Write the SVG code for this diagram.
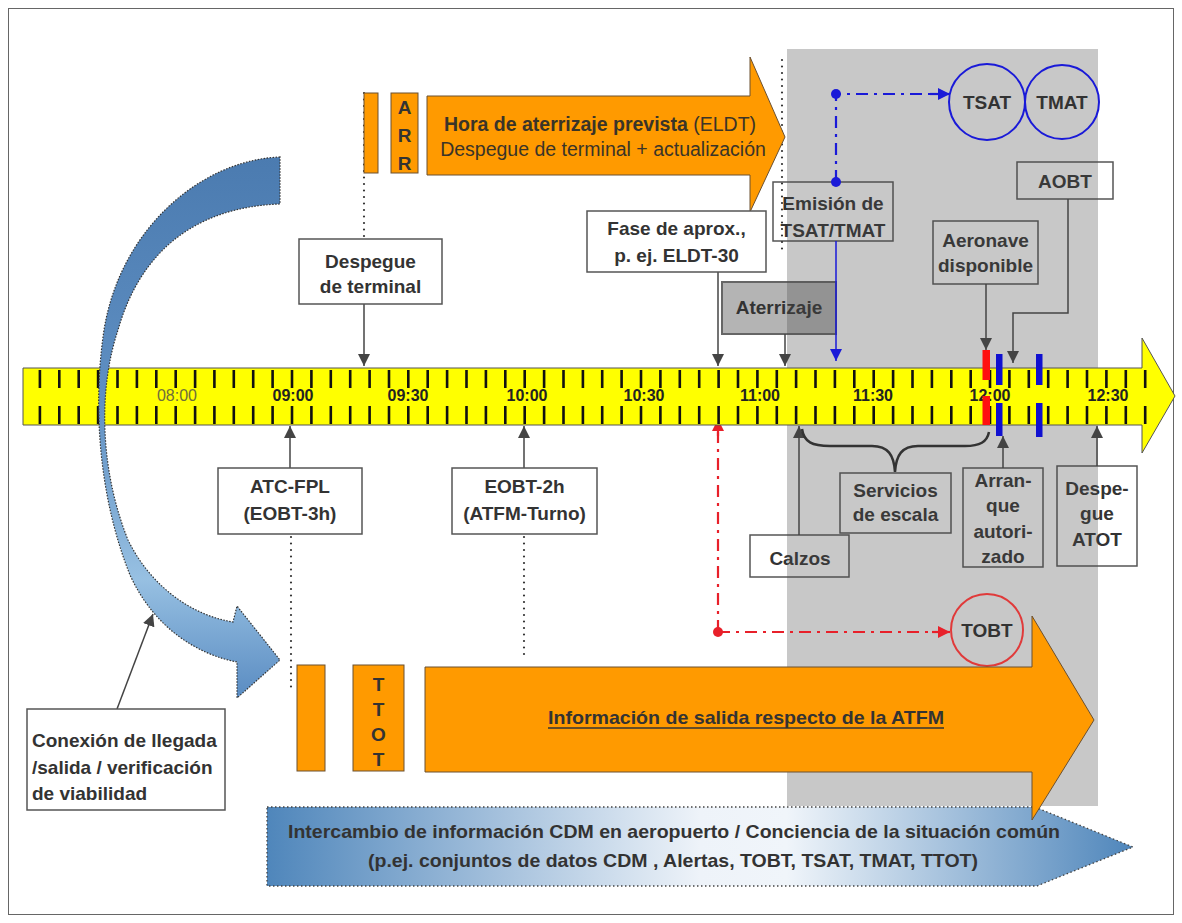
<svg xmlns="http://www.w3.org/2000/svg" width="1182" height="923" viewBox="0 0 1182 923">
<defs>
<style>
.box{fill:#fff;stroke:#555;stroke-width:1.5}
.lbl{font-family:"Liberation Sans",Arial,sans-serif;font-weight:bold;font-size:19px;fill:#333;text-anchor:middle}
.conn{stroke:#444;stroke-width:1.5;fill:none}
.dots{stroke:#333;stroke-width:2.2;stroke-linecap:round;stroke-dasharray:0 6.5;fill:none}
.tick{stroke:#111;stroke-width:2.6;fill:none}
.tl{font-family:"Liberation Sans",Arial,sans-serif;font-weight:bold;font-size:16px;fill:#222;text-anchor:middle}
.orange{fill:#FF9A00;stroke:#6b5030;stroke-width:1}
.bdash{stroke:#1a1ad8;stroke-width:2.2;fill:none;stroke-dasharray:12 6 3 6}
.rdash{stroke:#e8202a;stroke-width:2.2;fill:none;stroke-dasharray:12 6 3 6}
</style>
<marker id="ah" viewBox="0 0 10 10" refX="10" refY="5" markerWidth="12" markerHeight="12" orient="auto" markerUnits="userSpaceOnUse"><path d="M0,0 L10,5 L0,10 z" fill="#444"/></marker>
<marker id="ahb" viewBox="0 0 10 10" refX="10" refY="5" markerWidth="12" markerHeight="12" orient="auto" markerUnits="userSpaceOnUse"><path d="M0,0 L10,5 L0,10 z" fill="#1a1ad8"/></marker>
<marker id="ahr" viewBox="0 0 10 10" refX="10" refY="5" markerWidth="12" markerHeight="12" orient="auto" markerUnits="userSpaceOnUse"><path d="M0,0 L10,5 L0,10 z" fill="#e8202a"/></marker>
<linearGradient id="curveG" x1="0" y1="0" x2="0" y2="1">
<stop offset="0" stop-color="#4b7bb0"/><stop offset="0.45" stop-color="#5f8fc2"/><stop offset="0.78" stop-color="#97c0e2"/><stop offset="1" stop-color="#5a8cc2"/>
</linearGradient>
<linearGradient id="bandG" x1="0" y1="0" x2="1" y2="0">
<stop offset="0" stop-color="#4f86bb"/><stop offset="0.5" stop-color="#eef3f9"/><stop offset="0.6" stop-color="#f0f5fa"/><stop offset="1" stop-color="#4f86bb"/>
</linearGradient>
</defs>
<rect x="0" y="0" width="1182" height="923" fill="#fff"/>
<rect x="8.5" y="8.5" width="1165" height="906" fill="none" stroke="#666" stroke-width="1"/>

<!-- boxes under the gray panel -->
<g id="emision"><rect class="box" x="773" y="182" width="120" height="59"/><text class="lbl" x="833" y="210">Emisión de</text><text class="lbl" x="833" y="237">TSAT/TMAT</text></g>
<g id="aterrizaje"><rect x="722" y="282" width="114" height="52" fill="#b4b4b4" stroke="#666" stroke-width="2"/><text class="lbl" x="779" y="314">Aterrizaje</text></g>
<g id="aeronave"><rect class="box" x="933" y="221" width="105" height="63"/><text class="lbl" x="985.5" y="247">Aeronave</text><text class="lbl" x="985.5" y="272">disponible</text></g>
<g id="aobt"><rect class="box" x="1017" y="162" width="96" height="37"/><text class="lbl" x="1065" y="188">AOBT</text></g>
<g id="servicios"><rect class="box" x="840" y="473" width="111" height="60"/><text class="lbl" x="895.5" y="497">Servicios</text><text class="lbl" x="895.5" y="521">de escala</text></g>
<g id="calzos"><rect class="box" x="750" y="535" width="99" height="42"/><text class="lbl" x="800" y="565">Calzos</text></g>
<g id="arranque"><rect class="box" x="963" y="468" width="80" height="99"/><text class="lbl" x="1003" y="487">Arran-</text><text class="lbl" x="1003" y="512">que</text><text class="lbl" x="1003" y="538">autori-</text><text class="lbl" x="1003" y="563">zado</text></g>
<g id="despegue-atot"><rect class="box" x="1057" y="466" width="80" height="100"/><text class="lbl" x="1097" y="495">Despe-</text><text class="lbl" x="1097" y="520">gue</text><text class="lbl" x="1097" y="546">ATOT</text></g>

<!-- gray panel -->
<rect id="panel" x="787" y="49" width="311" height="757" fill="#484848" opacity="0.3"/>

<!-- connectors -->
<g id="connectors">
<path class="dots" d="M364,93 V238"/>
<path class="dots" d="M782,60 V253"/>
<path class="dots" d="M291,537 V690"/>
<path class="dots" d="M524,537 V657"/>
<path class="conn" d="M364,304 V366" marker-end="url(#ah)"/>
<path class="conn" d="M718,272 V366" marker-end="url(#ah)"/>
<path class="conn" d="M785,334 V366" marker-end="url(#ah)"/>
<path class="conn" d="M986,284 V350" marker-end="url(#ah)"/>
<path class="conn" d="M1068,199 V313 H1013 V363" marker-end="url(#ah)"/>
<path d="M836,241 V361" stroke="#1a1ad8" stroke-width="1.5" fill="none" marker-end="url(#ahb)"/>
<path class="conn" d="M290,468 V426" marker-end="url(#ah)"/>
<path class="conn" d="M524,468 V426" marker-end="url(#ah)"/>
<path class="conn" d="M799,535 V426" marker-end="url(#ah)"/>
<path class="conn" d="M1003,468 V436" marker-end="url(#ah)"/>
<path class="conn" d="M1097,466 V426" marker-end="url(#ah)"/>
<path class="conn" d="M117,709 L153,614" marker-end="url(#ah)"/>
<path d="M802,429 C804,442 812,446 830,446 L872,446 C888,446 894,455 895,472 C896,455 902,446 918,446 L965,446 C980,446 987,442 989,432" stroke="#333" stroke-width="2.5" fill="none"/>
<path class="bdash" d="M836,182 V94 H938"/>
<path d="M930,94 H950" stroke="#1a1ad8" stroke-width="2.2" marker-end="url(#ahb)"/>
<circle cx="836" cy="94" r="5" fill="#1a1ad8"/>
<circle cx="836" cy="182" r="5" fill="#1a1ad8"/>
<path class="rdash" d="M718,632 V432"/>
<path d="M718,436 V419" stroke="#e8202a" stroke-width="2.2" marker-end="url(#ahr)"/>
<path class="rdash" d="M718,632 H938"/>
<path d="M932,632 H950" stroke="#e8202a" stroke-width="2.2" marker-end="url(#ahr)"/>
<circle cx="718" cy="632" r="5" fill="#e8202a"/>
</g>

<!-- timeline -->
<g id="timeline">
<path d="M23,368 H1142 V338 L1175,396 L1142,453 V425 H23 Z" fill="#FFFF00" stroke="#555" stroke-width="1"/>
<path class="tick" d="M39.9 370v18M59.3 370v18M78.7 370v18M98.1 370v18M117.5 370v18M136.9 370v18M156.3 370v18M175.7 370v18M195.1 370v18M214.4 370v18M233.8 370v18M253.2 370v18M272.6 370v18M292 370v18M311.4 370v18M330.8 370v18M350.2 370v18M369.6 370v18M389 370v18M408.3 370v18M427.7 370v18M447.1 370v18M466.5 370v18M485.9 370v18M505.3 370v18M524.7 370v18M544.1 370v18M563.5 370v18M582.9 370v18M602.2 370v18M621.6 370v18M641 370v18M660.4 370v18M679.8 370v18M699.2 370v18M718.6 370v18M738 370v18M757.4 370v18M776.8 370v18M796.1 370v18M815.5 370v18M834.9 370v18M854.3 370v18M873.7 370v18M893.1 370v18M912.5 370v18M931.9 370v18M951.3 370v18M970.7 370v18M990 370v18M1009.4 370v18M1028.8 370v18M1048.2 370v18M1067.6 370v18M1087 370v18M1106.4 370v18M1125.8 370v18M1145.2 370v18"/>
<path class="tick" d="M39.9 406v18M59.3 406v18M78.7 406v18M98.1 406v18M117.5 406v18M136.9 406v18M156.3 406v18M175.7 406v18M195.1 406v18M214.4 406v18M233.8 406v18M253.2 406v18M272.6 406v18M292 406v18M311.4 406v18M330.8 406v18M350.2 406v18M369.6 406v18M389 406v18M408.3 406v18M427.7 406v18M447.1 406v18M466.5 406v18M485.9 406v18M505.3 406v18M524.7 406v18M544.1 406v18M563.5 406v18M582.9 406v18M602.2 406v18M621.6 406v18M641 406v18M660.4 406v18M679.8 406v18M699.2 406v18M718.6 406v18M738 406v18M757.4 406v18M776.8 406v18M796.1 406v18M815.5 406v18M834.9 406v18M854.3 406v18M873.7 406v18M893.1 406v18M912.5 406v18M931.9 406v18M951.3 406v18M970.7 406v18M990 406v18M1009.4 406v18M1028.8 406v18M1048.2 406v18M1067.6 406v18M1087 406v18M1106.4 406v18M1125.8 406v18M1145.2 406v18"/>
<text x="177" y="401" font-family="Liberation Sans,Arial,sans-serif" font-size="16" fill="#6e6e3c" text-anchor="middle">08:00</text>
<text class="tl" x="293" y="401">09:00</text>
<text class="tl" x="408" y="401">09:30</text>
<text class="tl" x="527" y="401">10:00</text>
<text class="tl" x="644" y="401">10:30</text>
<text class="tl" x="760" y="401">11:00</text>
<text class="tl" x="873" y="401">11:30</text>
<text class="tl" x="990" y="401">12:00</text>
<text class="tl" x="1108" y="401">12:30</text>
<rect x="982.5" y="350" width="7.5" height="30" fill="#ff1010"/>
<rect x="982.5" y="396" width="7.5" height="29" fill="#ff1010"/>
<rect x="996" y="354" width="6.5" height="31" fill="#1010d0"/>
<rect x="996" y="403" width="6.5" height="33" fill="#1010d0"/>
<rect x="1036" y="354" width="6.5" height="31" fill="#1010d0"/>
<rect x="1036" y="403" width="6.5" height="34" fill="#1010d0"/>
</g>

<!-- circles -->
<g id="tsat"><circle cx="987" cy="102" r="38" fill="none" stroke="#1a1ad8" stroke-width="2"/><text class="lbl" x="987" y="109">TSAT</text></g>
<g id="tmat"><circle cx="1062" cy="102" r="37" fill="none" stroke="#1a1ad8" stroke-width="2"/><text class="lbl" x="1062" y="109">TMAT</text></g>
<g id="tobt"><circle cx="987" cy="630" r="36" fill="none" stroke="#e03a3a" stroke-width="2"/><text class="lbl" x="987" y="637">TOBT</text></g>

<!-- top arrival arrow -->
<g id="arr-bar"><rect class="orange" x="364" y="93" width="14" height="80"/></g>
<g id="arr"><rect class="orange" x="391" y="93" width="27" height="80"/>
<text class="lbl" x="404.5" y="114" font-size="20">A</text><text class="lbl" x="404.5" y="142" font-size="20">R</text><text class="lbl" x="404.5" y="170" font-size="20">R</text></g>
<g id="eldt"><path class="orange" d="M427,96 H750 V57 L785,137 L750,212 V175 H427 Z"/>
<text x="600" y="131" font-family="Liberation Sans,Arial,sans-serif" font-size="19.5" fill="#3a3428" text-anchor="middle"><tspan font-weight="bold">Hora de aterrizaje prevista</tspan> (ELDT)</text>
<text x="603" y="156" font-family="Liberation Sans,Arial,sans-serif" font-size="19.5" fill="#3a3428" text-anchor="middle">Despegue de terminal + actualización</text></g>

<!-- bottom CDM band -->
<g id="cdm"><path d="M267,807 H1035 L1133,847 L1037,886 H267 Z" fill="url(#bandG)" stroke="#444" stroke-width="1.3" stroke-dasharray="1.5 2.5"/>
<text class="lbl" x="674" y="838" font-size="20" textLength="772" lengthAdjust="spacingAndGlyphs">Intercambio de información CDM en aeropuerto / Conciencia de la situación común</text>
<text class="lbl" x="673" y="867" font-size="20" textLength="610" lengthAdjust="spacingAndGlyphs">(p.ej. conjuntos de datos CDM , Alertas, TOBT, TSAT, TMAT, TTOT)</text></g>

<!-- bottom departure arrow -->
<g id="dep-bar"><rect class="orange" x="297" y="665" width="28" height="106"/></g>
<g id="ttot"><rect class="orange" x="353" y="665" width="51" height="106"/>
<text class="lbl" x="378.5" y="691" font-size="23">T</text><text class="lbl" x="378.5" y="716" font-size="23">T</text><text class="lbl" x="378.5" y="741" font-size="23">O</text><text class="lbl" x="378.5" y="766" font-size="23">T</text></g>
<g id="atfm"><path class="orange" d="M425,667 H1032 V616 L1094,720 L1032,820 V772 H425 Z"/>
<text class="lbl" x="746" y="724" font-size="20" textLength="396" lengthAdjust="spacingAndGlyphs">Información de salida respecto de la ATFM</text>
<line x1="548" y1="728" x2="944" y2="728" stroke="#333" stroke-width="1.5"/></g>

<!-- curved arrow -->
<g id="curved-arrow"><path d="M280,157 C200,160 120,230 104,330 C92,410 100,500 130,575 C155,630 200,655 237,662 L237,698 L280,660 L237,606 L233,622 C190,615 150,585 128,540 C100,470 98,390 118,330 C140,252 195,207 280,204 Z" fill="url(#curveG)" stroke="#333" stroke-width="1.2" stroke-dasharray="1.5 1.5"/></g>

<!-- other boxes -->
<g id="despegue-terminal"><rect class="box" x="299" y="239" width="143" height="65"/><text class="lbl" x="370.5" y="268">Despegue</text><text class="lbl" x="370.5" y="293">de terminal</text></g>
<g id="fase"><rect class="box" x="587" y="211" width="179" height="61"/><text class="lbl" x="676.5" y="235">Fase de aprox.,</text><text class="lbl" x="676.5" y="262">p. ej. ELDT-30</text></g>
<g id="atc-fpl"><rect class="box" x="218" y="468" width="144" height="66"/><text class="lbl" x="290" y="493">ATC-FPL</text><text class="lbl" x="290" y="520">(EOBT-3h)</text></g>
<g id="eobt2h"><rect class="box" x="452" y="468" width="145" height="66"/><text class="lbl" x="524.5" y="493">EOBT-2h</text><text class="lbl" x="524.5" y="520">(ATFM-Turno)</text></g>
<g id="conexion"><rect class="box" x="27" y="709" width="198" height="101"/>
<text class="lbl" x="32" y="747" font-size="19.5" style="text-anchor:start">Conexión de llegada</text>
<text class="lbl" x="32" y="774" font-size="19.5" style="text-anchor:start">/salida / verificación</text>
<text class="lbl" x="32" y="800" font-size="19.5" style="text-anchor:start">de viabilidad</text></g>
</svg>
